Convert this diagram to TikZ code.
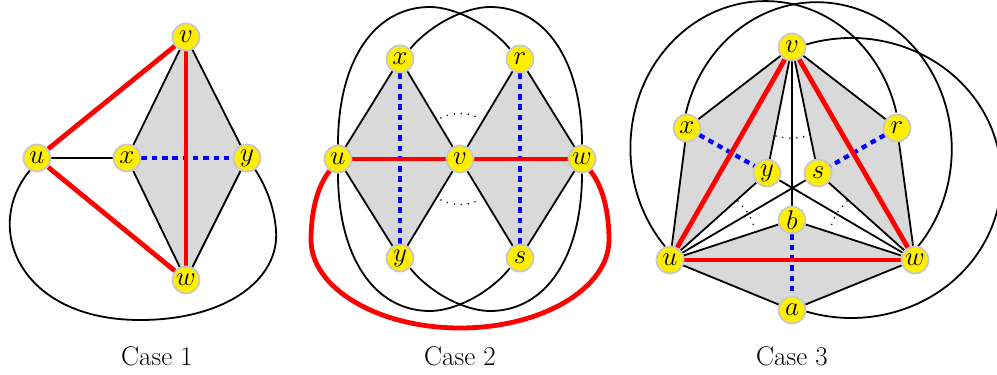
\documentclass[tikz,border=0pt]{standalone}
\usepackage{fix-cm}
\pgfdeclarelayer{shade}
\pgfdeclarelayer{edges}
\pgfsetlayers{shade,edges,main}
\definecolor{vyellow}{RGB}{255,238,0}
\definecolor{vborder}{RGB}{200,200,200}
\definecolor{shadegray}{RGB}{217,217,217}
\begin{document}
\begin{tikzpicture}[x=1pt,y=-1pt,
  vtx/.style={circle, fill=vyellow, draw=vborder, line width=1.8pt, minimum size=27pt, inner sep=0pt, font=\fontsize{27}{29}\selectfont},
  blk/.style={line width=1.8pt, black},
  redl/.style={line width=4.8pt, red},
  bluel/.style={line width=4.3pt, blue, dash pattern=on 5.5pt off 4.8pt},
  dotl/.style={line width=1.7pt, line cap=round, dash pattern=on 0pt off 7pt},
  shadefill/.style={fill=shadegray},
  caption/.style={font=\fontsize{27}{30}\selectfont}]
\useasboundingbox (0,0) rectangle (997,375);

% ---------------- Case 1 ----------------
\node[vtx] (v1) at (186,37) {$v$};
\node[vtx] (u1) at (37,158) {$u$};
\node[vtx] (x1) at (127,158) {$x$};
\node[vtx] (y1) at (247,158) {$y$};
\node[vtx] (w1) at (186,280) {$w$};
\node[caption] (c1) at (157,356) {Case 1};

% ---------------- Case 2 ----------------
\node[vtx] (u2) at (338,159) {$u$};
\node[vtx] (x2) at (400,59) {$x$};
\node[vtx] (r2) at (520,59) {$r$};
\node[vtx] (v2) at (460,159) {$v$};
\node[vtx] (w2) at (582,159) {$w$};
\node[vtx] (y2) at (400,258) {$y$};
\node[vtx] (s2) at (520,258) {$s$};
\node[caption] (c2) at (460,356) {Case 2};

% ---------------- Case 3 ----------------
\node[vtx] (v3) at (792,47) {$v$};
\node[vtx] (x3) at (687,128) {$x$};
\node[vtx] (r3) at (897,128) {$r$};
\node[vtx] (y3) at (767,173) {$y$};
\node[vtx] (s3) at (818,173) {$s$};
\node[vtx] (b3) at (792,220) {$b$};
\node[vtx] (u3) at (670,260) {$u$};
\node[vtx] (w3) at (915,260) {$w$};
\node[vtx] (a3) at (792,310) {$a$};
\node[caption] (c3) at (792,356) {Case 3};

\begin{pgfonlayer}{shade}
  \fill[shadefill] (v1.center) -- (y1.center) -- (w1.center) -- (x1.center) -- cycle;
  \fill[shadefill] (u2.center) -- (x2.center) -- (v2.center) -- (y2.center) -- cycle;
  \fill[shadefill] (v2.center) -- (r2.center) -- (w2.center) -- (s2.center) -- cycle;
  \fill[shadefill] (v3.center) -- (x3.center) -- (u3.center) -- (y3.center) -- cycle;
  \fill[shadefill] (v3.center) -- (r3.center) -- (w3.center) -- (s3.center) -- cycle;
  \fill[shadefill] (u3.center) -- (b3.center) -- (w3.center) -- (a3.center) -- cycle;
\end{pgfonlayer}

\begin{pgfonlayer}{edges}
  % Case 1
  \draw[blk] (x1) -- (v1) -- (y1) -- (w1) -- (x1);
  \draw[blk] (u1) -- (x1);
  \draw[blk] (u1.-120) .. controls (-18,228) and (20,320) .. (140,320)
     .. controls (225,320) and (280,280) .. (276,230)
     .. controls (274,205) and (265,185) .. (y1.-55);
  \draw[bluel] (x1) -- (y1);
  \draw[redl] (u1) -- (v1);
  \draw[redl] (u1) -- (w1);
  \draw[redl] (v1) -- (w1);

  % Case 2
  \draw[blk] (u2) -- (x2) -- (v2) -- (y2) -- (u2);
  \draw[blk] (v2) -- (r2) -- (w2) -- (s2) -- (v2);
  \draw[blk] (u2.90) .. controls (338,60) and (375,7) .. (430,7)
     .. controls (455,7) and (490,25) .. (r2.135);
  \draw[blk] (x2.45) .. controls (430,25) and (465,7) .. (490,7)
     .. controls (545,7) and (582,60) .. (w2.90);
  \draw[blk] (u2.-90) .. controls (338,258) and (375,311) .. (430,311)
     .. controls (455,311) and (490,293) .. (s2.-135);
  \draw[blk] (y2.-45) .. controls (430,293) and (465,311) .. (490,311)
     .. controls (545,311) and (582,258) .. (w2.-90);
  \draw[dotl] (441,118) .. controls (452,112) and (468,112) .. (479,118);
  \draw[dotl] (441,200) .. controls (452,206) and (468,206) .. (479,200);
  \draw[bluel] (x2) -- (y2);
  \draw[bluel] (r2) -- (s2);
  \draw[redl] (u2) -- (v2);
  \draw[redl] (v2) -- (w2);
  \draw[redl] (u2.-125) .. controls (318,185) and (311,210) .. (311,240)
     .. controls (311,288) and (378,328) .. (460,328)
     .. controls (542,328) and (609,288) .. (609,240)
     .. controls (609,210) and (602,185) .. (w2.-55);

  % Case 3
  \draw[blk] (v3) -- (x3) -- (u3) -- (y3) -- (v3);
  \draw[blk] (v3) -- (r3) -- (w3) -- (s3) -- (v3);
  \draw[blk] (v3) -- (b3);
  \draw[blk] (u3) -- (s3);
  \draw[blk] (w3) -- (y3);
  \draw[blk] (u3) -- (b3) -- (w3) -- (a3) -- (u3);
  \draw[blk] (u3.110) arc[start angle=222, end angle=14, x radius=135pt, y radius=147pt];
  \draw[blk] (x3.95) arc[start angle=166, end angle=-42, x radius=135pt, y radius=147pt];
  \draw[blk] (v3.10) arc[start angle=107.5, end angle=-107.5, x radius=150pt, y radius=140pt];
  \draw[dotl] (776,136) .. controls (792,139) .. (808,136);
  \draw[dotl] (738,201) .. controls (749,213.5) .. (755,229);
  \draw[dotl] (847,201) .. controls (836,213.5) .. (830,229);
  \draw[bluel] (x3) -- (y3);
  \draw[bluel] (r3) -- (s3);
  \draw[bluel] (b3) -- (a3);
  \draw[redl] (u3) -- (v3);
  \draw[redl] (v3) -- (w3);
  \draw[redl] (u3) -- (w3);
\end{pgfonlayer}
\end{tikzpicture}
\end{document}
